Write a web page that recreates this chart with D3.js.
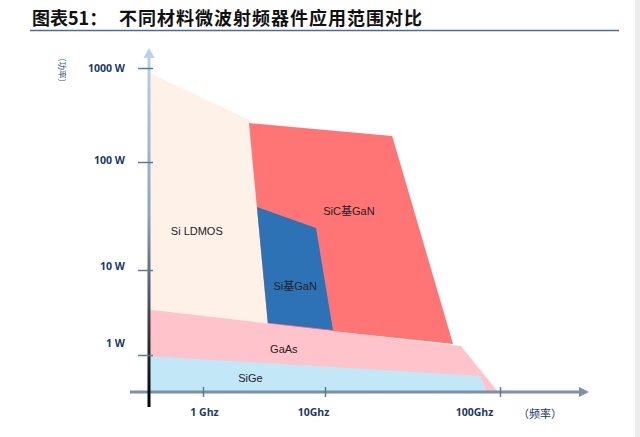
<!DOCTYPE html>
<html>
<head>
<meta charset="utf-8">
<style>
  body { margin: 0; background: #fff; }
  svg { display: block; }
  .tick text { font-family: "Open Sans", sans-serif; font-weight: 700; font-size: 10.5px; fill: #203a63; }
  .region { font-family: "Liberation Sans", "Noto Sans CJK SC", sans-serif; font-size: 11px; fill: #222; }
</style>
<script src="https://cdn.jsdelivr.net/npm/d3@7"></script>
</head>
<body>
<script>

// data ///////////////////////////////////////////////////////////////////

// frequency in GHz, power in W
var freqTicks  = [1, 10, 100];
var freqLabels = ["1 Ghz", "10Ghz", "100Ghz"];
var powerTicks  = [1, 10, 100, 1000];
var powerLabels = ["1 W", "10 W", "100 W", "1000 W"];

var ldmos  = [[0.37, 885], [2.4, 280], [3.4, 2.3], [0.37, 3.4]];
var sicGaN = [[2.38, 260], [24.2, 189], [53.9, 1.35], [3.4, 2.3]];
var siGaN  = [[2.77, 38.3], [8.44, 24.5], [11.1, 1.97], [3.4, 2.4]];
var gaAs   = [[0.37, 3.4], [59.8, 1.28], [97.5, 0.37], [0.37, 0.37]];
var siGe   = [[0.37, 0.97], [76.9, 0.57], [84.3, 0.37], [0.37, 0.37]];

var regions = [
	{name: "Si LDMOS", pts: ldmos,  color: "#fdf1e8", at: [0.89, 23]},
	{name: "SiC基GaN", pts: sicGaN, color: "#ff7575", at: [13.7, 35]},
	{name: "Si基GaN",  pts: siGaN,  color: "#2e72b6", at: [5.7, 6.5]},
	{name: "GaAs",     pts: gaAs,   color: "#ffc3cb", at: [4.6, 1.18]},
	{name: "SiGe",     pts: siGe,   color: "#c2e8f8", at: [2.45, 0.54]},
];

// scales (piecewise log, as the axes in the picture are not evenly spaced)

var x = d3.scaleLog()
	.domain([0.37, 1, 10, 100])
	.range([150, 203, 325, 500]);

var y = d3.scaleLog()
	.domain([0.37, 1, 10, 100, 1000])
	.range([392, 355, 270, 162, 68]);

var svg = d3.select("body").append("svg")
	.attr("width", 640)
	.attr("height", 437);

// page edge shadow
svg.append("rect").attr("x", 635).attr("y", 0).attr("width", 5).attr("height", 437).attr("fill", "#ececec");

// title
svg.append("text")
	.attr("x", 32).attr("y", 25)
	.attr("font-family", "Noto Sans CJK SC, sans-serif")
	.attr("font-weight", 700).attr("font-size", 18)
	.attr("fill", "#111")
	.text("图表51：");
svg.append("text")
	.attr("x", 119).attr("y", 25)
	.attr("font-family", "Noto Sans CJK SC, sans-serif")
	.attr("font-weight", 700).attr("font-size", 18)
	.attr("letter-spacing", 1)
	.attr("fill", "#111")
	.text("不同材料微波射频器件应用范围对比");
svg.append("line")
	.attr("x1", 30).attr("x2", 619).attr("y1", 30.5).attr("y2", 30.5)
	.attr("stroke", "#4d6b9a").attr("stroke-width", 1.5);

// regions
var line = d3.line().x(d => x(d[0])).y(d => y(d[1]));

svg.append("g").selectAll("path")
	.data(regions)
	.join("path")
		.attr("d", d => line(d.pts) + "Z")
		.attr("fill", d => d.color);

svg.append("g").selectAll("text")
	.data(regions)
	.join("text")
		.attr("class", "region")
		.attr("x", d => x(d.at[0]))
		.attr("y", d => y(d.at[1]))
		.attr("text-anchor", "middle")
		.attr("dy", "0.35em")
		.text(d => d.name);

// axes
var defs = svg.append("defs");
var grad = defs.append("linearGradient")
	.attr("id", "yaxis-grad")
	.attr("x1", 0).attr("x2", 0).attr("y1", 0).attr("y2", 1);
grad.append("stop").attr("offset", "0%").attr("stop-color", "#b7d1ec");
grad.append("stop").attr("offset", "45%").attr("stop-color", "#8ba4bf");
grad.append("stop").attr("offset", "80%").attr("stop-color", "#333");
grad.append("stop").attr("offset", "100%").attr("stop-color", "#000");

// x axis line + arrow
svg.append("line")
	.attr("x1", 130).attr("x2", 580).attr("y1", 392).attr("y2", 392)
	.attr("stroke", "#7d90a6").attr("stroke-width", 3);
svg.append("path")
	.attr("d", "M579,387L589,392L579,397Z")
	.attr("fill", "#7d90a6");

var xShift = {1: 1, 10: -12, 100: -26};
var xAxis = svg.append("g")
	.attr("transform", "translate(0,392)")
	.call(d3.axisBottom(x).tickValues(freqTicks).tickFormat((d, i) => freqLabels[i]).tickSize(5));
xAxis.select(".domain").remove();
xAxis.selectAll(".tick line").attr("y1", -5).attr("y2", 5).attr("stroke", "#5a7aa0").attr("stroke-width", 1.5);
xAxis.selectAll(".tick text").attr("y", 17).attr("dx", d => xShift[d]);

svg.append("text")
	.attr("x", 540).attr("y", 418)
	.attr("text-anchor", "middle")
	.attr("font-family", "Noto Sans CJK SC, sans-serif")
	.attr("font-size", 11).attr("fill", "#203a63")
	.text("（频率）");

// y axis line + arrow
svg.append("rect")
	.attr("x", 147.5).attr("y", 56).attr("width", 3).attr("height", 351)
	.attr("fill", "url(#yaxis-grad)");
svg.append("path")
	.attr("d", "M143.5,58L149,48L154.5,58Z")
	.attr("fill", "#b7d1ec");

var yShift = {1: -12, 10: -4, 100: -2, 1000: 0};
var yAxis = svg.append("g")
	.attr("transform", "translate(149,0)")
	.call(d3.axisLeft(y).tickValues(powerTicks).tickFormat((d, i) => powerLabels[i]).tickSize(11));
yAxis.select(".domain").remove();
yAxis.selectAll(".tick line").attr("x2", -11).attr("x1", 4).attr("stroke", "#5a7aa0").attr("stroke-width", 1.5);
yAxis.selectAll(".tick text").attr("x", -24).attr("dy", d => (yShift[d] + 3.5) + "px");

svg.append("text")
	.attr("transform", "translate(59,70) rotate(90)")
	.attr("text-anchor", "middle")
	.attr("font-family", "Noto Sans CJK SC, sans-serif")
	.attr("font-size", 8.5).attr("fill", "#3c5a8a")
	.text("（功率）");

</script>
</body>
</html>
